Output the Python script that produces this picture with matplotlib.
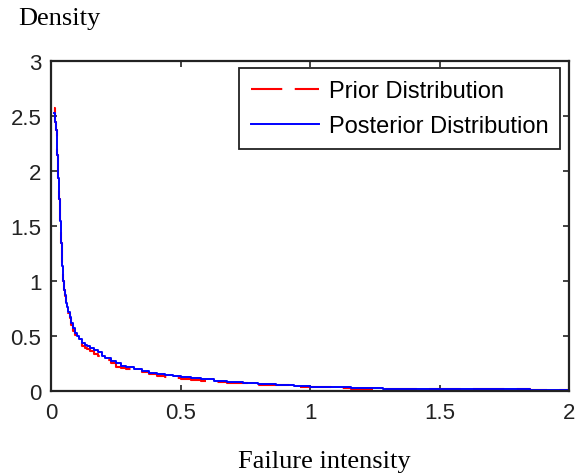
import numpy as np
import matplotlib
matplotlib.use('Agg')
import matplotlib.pyplot as plt

# step densities (x = left edge of each step)
x_post = [0.012, 0.016, 0.019, 0.023, 0.027, 0.031, 0.034, 0.038, 0.042, 0.046,
          0.050, 0.054, 0.058, 0.062, 0.067, 0.072, 0.078, 0.085, 0.092, 0.10,
          0.11, 0.12, 0.13, 0.14, 0.15, 0.165, 0.18, 0.195, 0.21, 0.23,
          0.25, 0.27, 0.29, 0.32, 0.35, 0.38, 0.41, 0.44, 0.47, 0.50,
          0.54, 0.58, 0.63, 0.68, 0.74, 0.80, 0.87, 0.94, 1.0, 1.08,
          1.16, 1.28, 1.4, 1.6, 1.85, 2.0]
y_post = [2.53, 2.45, 2.37, 2.15, 1.94, 1.75, 1.55, 1.35, 1.14, 1.0,
          0.92, 0.87, 0.80, 0.76, 0.72, 0.67, 0.62, 0.57, 0.53, 0.50,
          0.47, 0.44, 0.42, 0.41, 0.39, 0.37, 0.35, 0.32, 0.30, 0.27,
          0.25, 0.23, 0.215, 0.20, 0.18, 0.165, 0.155, 0.145, 0.135, 0.125,
          0.115, 0.105, 0.095, 0.085, 0.075, 0.065, 0.055, 0.045, 0.038, 0.032,
          0.025, 0.022, 0.02, 0.02, 0.011, 0.011]

x_prior = x_post
y_prior = [2.57, 2.45, 2.37, 2.15, 1.94, 1.75, 1.55, 1.35, 1.14, 1.0,
           0.92, 0.86, 0.79, 0.75, 0.71, 0.66, 0.60, 0.55, 0.51, 0.47,
           0.44, 0.41, 0.39, 0.38, 0.36, 0.34, 0.32, 0.30, 0.28, 0.25,
           0.22, 0.21, 0.20, 0.185, 0.17, 0.15, 0.14, 0.13, 0.12, 0.105,
           0.10, 0.095, 0.085, 0.075, 0.07, 0.055, 0.05, 0.04, 0.033, 0.03,
           0.015, 0.02, 0.02, 0.018, 0.006, 0.011]

xticks = [0, 0.5, 1, 1.5, 2]
xticklabels = ['0', '0.5', '1', '1.5', '2']
yticks = [0, 0.5, 1, 1.5, 2, 2.5, 3]
yticklabels = ['0', '0.5', '1', '1.5', '2', '2.5', '3']

plt.rcParams['font.family'] = ['Liberation Sans', 'DejaVu Sans']

fig = plt.figure(figsize=(5.75, 4.77), dpi=100)
ax = fig.add_axes([0.0887, 0.1782, 0.9009, 0.6918])

ax.plot(x_prior, y_prior, color='red', lw=1.5, drawstyle='steps-post',
        dashes=(15, 6), label='Prior Distribution')
ax.plot(x_post, y_post, color='blue', lw=1.4, drawstyle='steps-post',
        label='Posterior Distribution')

ax.set_xlim(0, 2)
ax.set_ylim(0, 3)
ax.set_xticks(xticks)
ax.set_xticklabels(xticklabels)
ax.set_yticks(yticks)
ax.set_yticklabels(yticklabels)
ax.tick_params(direction='in', length=4, width=1.2, top=True, right=True,
               labelsize=16, colors='#222222')
ax.tick_params(axis='x', pad=8)
ax.tick_params(axis='y', pad=7)
for s in ax.spines.values():
    s.set_linewidth(1.6)
    s.set_color('#222222')

leg = ax.legend(loc='upper right', bbox_to_anchor=(0.9826, 0.978),
                borderaxespad=0, fancybox=False, fontsize=17,
                handlelength=2.9, handletextpad=0.4, labelspacing=0.55,
                borderpad=0.5, framealpha=1)
leg.get_frame().set_edgecolor('#222222')
leg.get_frame().set_linewidth(1.3)

fig.text(0.032, 1 - 25 / 477, 'Density', family='Liberation Serif',
         fontsize=19, va='baseline', ha='left')
fig.text(0.414, 1 - 468 / 477, 'Failure intensity', family='Liberation Serif',
         fontsize=19, va='baseline', ha='left')

fig.savefig('out.png', dpi=100)
